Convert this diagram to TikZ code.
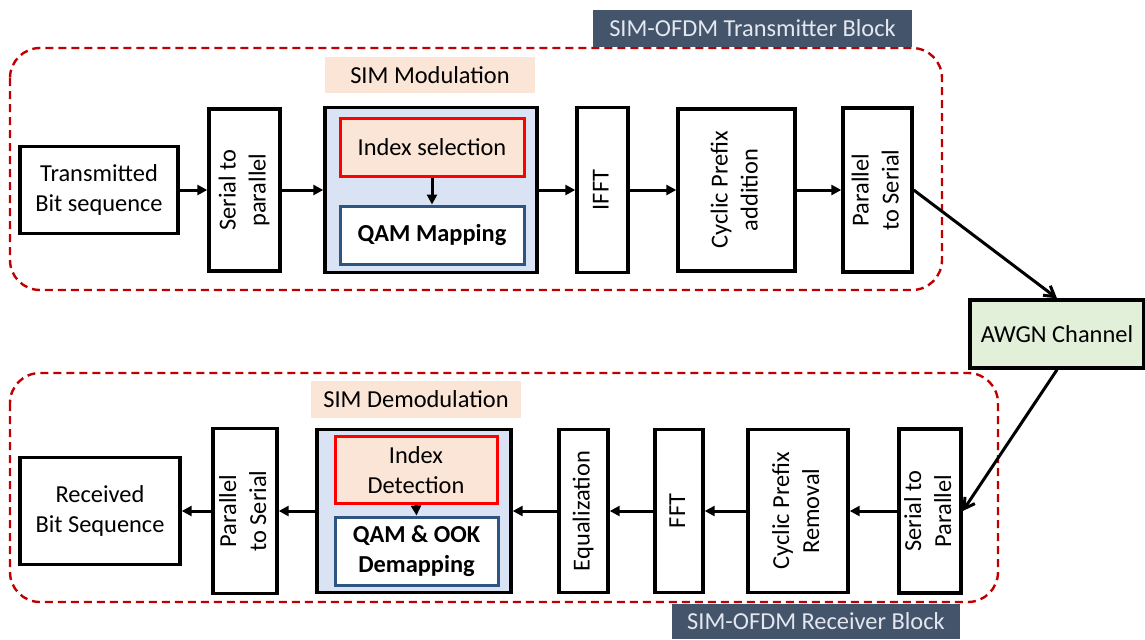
\documentclass[tikz,border=0pt]{standalone}
\usepackage{fontspec}
\setmainfont{Carlito}
\usetikzlibrary{arrows.meta}

\definecolor{dashred}{RGB}{192,0,0}
\definecolor{peach}{RGB}{251,229,214}
\definecolor{paleblue}{RGB}{218,227,243}
\definecolor{palegreen}{RGB}{226,240,217}
\definecolor{slate}{RGB}{68,84,106}
\definecolor{bannertext}{RGB}{226,231,240}
\definecolor{mapblue}{RGB}{46,84,130}
\definecolor{selred}{RGB}{255,0,0}

% vertical text for the narrow blocks
\newcommand{\vtext}[1]{\rotatebox{90}{\begin{tabular}{@{}c@{}}#1\end{tabular}}}

\begin{document}
\begin{tikzpicture}[x=0.5pt, y=-0.5pt,
  every node/.style={font=\fontsize{12.2}{15}\selectfont, inner sep=0pt, align=center},
  blk/.style={draw, line width=1.7pt, fill=white},
  tag/.style={fill=peach},
  banner/.style={fill=slate, text=bannertext},
  link/.style={-{Triangle[length=5pt,width=5pt]}, line width=1.5pt},
  hop/.style={-{Straight Barb[length=5pt,width=6pt]}, line width=1.5pt},
  group/.style={draw=dashred, line width=1.2pt, dash pattern=on 4pt off 2.5pt, rounded corners=15pt}]
\useasboundingbox (0,0) rectangle (1145,639);

% transmitter and receiver groups
\draw[group] (10,48) rectangle (942,290);
\draw[group] (10,373) rectangle (998,602);
\node (txlbl) at (752.5,28.5) [banner, minimum width=159.5pt, minimum height=18.5pt] {SIM-OFDM Transmitter Block};
\node (rxlbl) at (816,621) [banner, minimum width=144pt, minimum height=17.5pt] {SIM-OFDM Receiver Block};

% transmitter
\node (modlbl) at (430,75) [tag, minimum width=105pt, minimum height=18pt] {SIM Modulation};
\node (tbs) at (99,190) [blk, minimum width=79pt, minimum height=43.5pt] {Transmitted\\Bit sequence};
\node (s2p) at (244.5,190) [blk, minimum width=35.5pt, minimum height=81pt] {\vtext{Serial to\\parallel}};
\node (simmod) at (431,190) [blk, fill=paleblue, minimum width=106pt, minimum height=82.5pt] {};
\node (idxsel) at (432,147) [draw=selred, line width=1.5pt, fill=peach, minimum width=92pt, minimum height=29pt] {Index selection};
\node (qammap) at (432,235) [draw=mapblue, line width=1.5pt, fill=white, minimum width=92pt, minimum height=29pt] {\textbf{QAM Mapping}};
\node (ifft) at (602.5,190) [blk, minimum width=25.5pt, minimum height=82.5pt] {\vtext{IFFT}};
\node (cpa) at (736.5,190) [blk, minimum width=58.5pt, minimum height=81pt] {\vtext{Cyclic Prefix\\addition}};
\node (p2s) at (877.5,190) [blk, minimum width=34.5pt, minimum height=82pt] {\vtext{Parallel\\to Serial}};

\draw[link] (tbs.east) -- (s2p.west);
\draw[link] (s2p.east) -- (simmod.west);
\draw[link] (idxsel.south) -- (qammap.north);
\draw[link] (simmod.east) -- (ifft.west);
\draw[link] (ifft.east) -- (cpa.west);
\draw[link] (cpa.east) -- (p2s.west);

% channel
\node (awgn) at (1057,334) [draw, line width=1.7pt, fill=palegreen, minimum width=87pt, minimum height=34pt] {AWGN Channel};
\draw[hop] (p2s.east) -- (awgn.north);

% receiver
\node (demodlbl) at (416,399.5) [tag, minimum width=105pt, minimum height=18.5pt] {SIM Demodulation};
\node (rbs) at (100,511) [blk, minimum width=80pt, minimum height=53.5pt] {Received\\Bit Sequence};
\node (rp2s) at (245,511) [blk, minimum width=32pt, minimum height=82.5pt] {\vtext{Parallel\\to Serial}};
\node (simdemod) at (414,511) [blk, fill=paleblue, minimum width=97pt, minimum height=81.5pt] {};
\node (idxdet) at (416,470) [draw=selred, line width=1.5pt, fill=peach, minimum width=81pt, minimum height=33.5pt] {Index\\Detection};
\node (demap) at (416.5,551) [draw=mapblue, line width=1.5pt, fill=white, minimum width=81.5pt, minimum height=34pt] {\textbf{QAM \& OOK}\\\textbf{Demapping}};
\node (eq) at (583.5,511) [blk, minimum width=24.5pt, minimum height=81.5pt] {\vtext{Equalization}};
\node (fft) at (679,511) [blk, minimum width=24pt, minimum height=81.5pt] {\vtext{FFT}};
\node (cpr) at (798,511) [blk, minimum width=50pt, minimum height=81.5pt] {\vtext{Cyclic Prefix\\Removal}};
\node (rs2p) at (930,511) [blk, minimum width=31pt, minimum height=82pt] {\vtext{Serial to\\Parallel}};

\draw[hop] (awgn.south) -- (rs2p.east);
\draw[link] (rs2p.west) -- (cpr.east);
\draw[link] (cpr.west) -- (fft.east);
\draw[link] (fft.west) -- (eq.east);
\draw[link] (eq.west) -- (simdemod.east);
\draw[link] (idxdet.south) -- (demap.north);
\draw[link] (simdemod.west) -- (rp2s.east);
\draw[link] (rp2s.west) -- (rbs.east);
\end{tikzpicture}
\end{document}
